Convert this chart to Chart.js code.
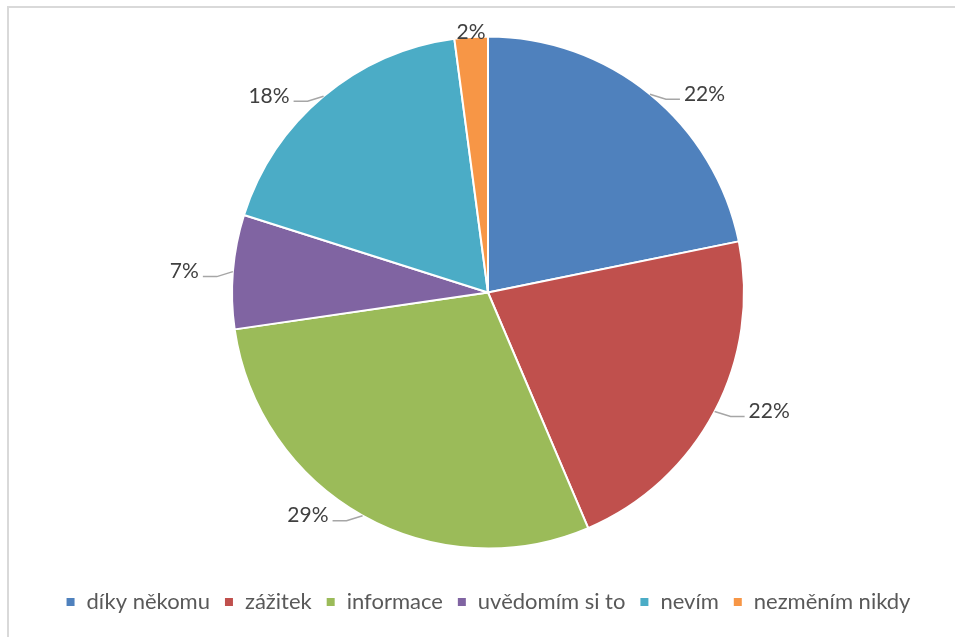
<!DOCTYPE html>
<html>
<head>
<meta charset="utf-8">
<script src="https://cdn.jsdelivr.net/npm/chart.js@4/dist/chart.umd.min.js"></script>
<style>
  html, body { margin: 0; padding: 0; background: #fff; overflow: hidden; }
  #frame { position: absolute; left: 7px; top: 6px; width: 1000px; height: 700px; border: 2px solid #d9d9d9; box-sizing: border-box; }
  #wrap { position: absolute; left: 0; top: 0; width: 955px; height: 637px; }
</style>
</head>
<body>
<div id="frame"></div>
<div id="wrap"><canvas id="chart"></canvas></div>
<script>
var categories = ['díky někomu', 'zážitek', 'informace', 'uvědomím si to', 'nevím', 'nezměním nikdy'];
var shares = [21.8, 21.8, 29.1, 7.2, 18.0, 2.1];
var colors = ['#4f81bd', '#c0504d', '#9bbb59', '#8064a2', '#4bacc6', '#f79646'];

const fontFamily = 'Lato, "Open Sans", sans-serif';

// percent labels with leader lines, roughly like Excel's "best fit"
var leaderLabels = {
  id: 'leaderLabels',
  afterDatasetsDraw(chart) {
    var ctx = chart.ctx;
    var meta = chart.getDatasetMeta(0);
    var total = shares.reduce((a, b) => a + b, 0);
    ctx.save();
    ctx.font = '21px ' + fontFamily;
    ctx.textBaseline = 'middle';
    meta.data.forEach((arc, i) => {
      var p = arc.getProps(['x', 'y', 'startAngle', 'endAngle', 'outerRadius']);
      var mid = (p.startAngle + p.endAngle) / 2;
      var ax = p.x + Math.cos(mid) * p.outerRadius;
      var ay = p.y + Math.sin(mid) * p.outerRadius;
      var text = Math.round(shares[i] / total * 100) + '%';
      ctx.fillStyle = '#404040';
      if (Math.abs(Math.cos(mid)) < 0.15) {
        // tiny slice at the top: label sits on the edge, no line
        ctx.textAlign = 'center';
        ctx.fillText(text, ax, ay - 5);
        return;
      }
      var side = Math.cos(mid) >= 0 ? 1 : -1;
      ctx.strokeStyle = '#a6a6a6';
      ctx.lineWidth = 1.5;
      ctx.beginPath();
      ctx.moveTo(ax, ay);
      ctx.lineTo(ax + side * 16, ay + 5);
      ctx.lineTo(ax + side * 30, ay + 5);
      ctx.stroke();
      ctx.textAlign = side > 0 ? 'left' : 'right';
      ctx.fillText(text, ax + side * 34, ay);
    });
    ctx.restore();
  }
};

new Chart(document.getElementById('chart'), {
  type: 'pie',
  data: {
    labels: categories,
    datasets: [{
      data: shares,
      backgroundColor: colors,
      borderColor: '#ffffff',
      borderWidth: 2,
      radius: 256
    }]
  },
  options: {
    responsive: true,
    maintainAspectRatio: false,
    animation: false,
    layout: { padding: { top: 8, bottom: 14, left: 21, right: 0 } },
    plugins: {
      tooltip: { enabled: false },
      legend: {
        position: 'bottom',
        labels: {
          boxWidth: 10,
          boxHeight: 10,
          padding: 14,
          color: '#595959',
          font: { family: fontFamily, size: 22 }
        }
      }
    }
  },
  plugins: [leaderLabels]
});
</script>
</body>
</html>
